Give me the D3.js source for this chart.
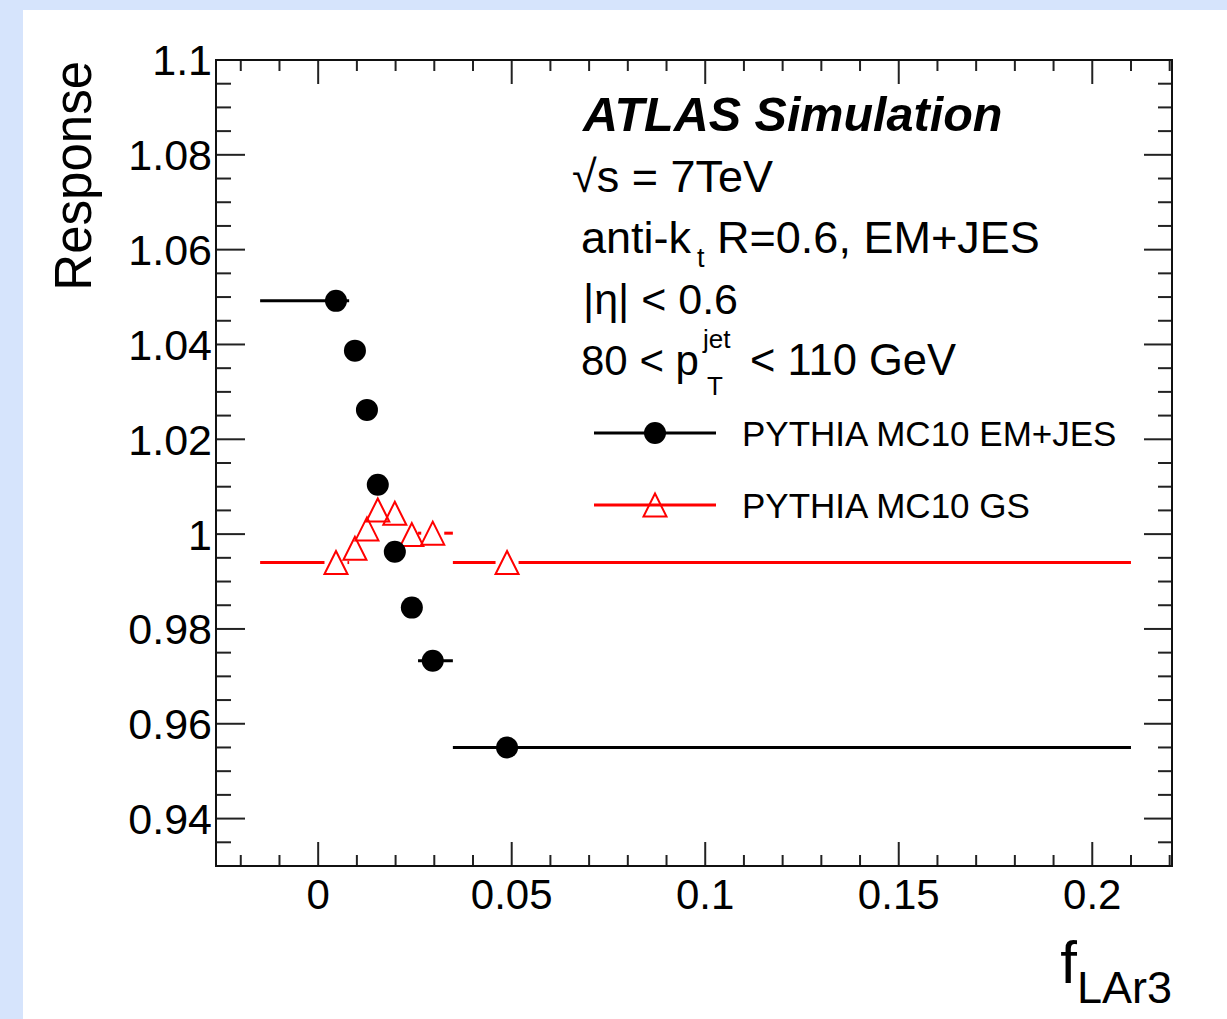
<!DOCTYPE html>
<html>
    <head>
        <style>
            body { margin: 0; background: #d6e4fc; }
            svg { display: block; }
            text { font-family: "Liberation Sans", Arial, sans-serif; fill: black; }
            line.tick { stroke: #222; stroke-width: 2; }
            .frame { fill: none; stroke: #111; stroke-width: 2; }
        </style>
        <script src="https://cdn.jsdelivr.net/npm/d3@7"></script>
    </head>
    <body>
        <div id="canvas"></div>
        <script>
            var canvas_w = 1227;
            var canvas_h = 1019;

            // bins in f_LAr3 (horizontal error bars) and bin centres
            var bin_x  = [0.0046, 0.0095, 0.0126, 0.0154, 0.0198, 0.0242, 0.0296, 0.0488];
            var bin_lo = [-0.015, 0.0080, 0.0110, 0.0140, 0.0172, 0.0225, 0.0258, 0.0348];
            var bin_hi = [0.0080, 0.0110, 0.0140, 0.0172, 0.0225, 0.0258, 0.0348, 0.2100];

            // response per bin
            var resp_emjes = [1.0492, 1.0387, 1.0262, 1.0104, 0.9963, 0.9845, 0.9733, 0.9550];
            var resp_gs    = [0.9940, 0.9970, 1.0011, 1.0051, 1.0044, 0.9999, 1.0002, 0.9940];

            var x_major = [0, 0.05, 0.1, 0.15, 0.2];
            var x_labels = ["0", "0.05", "0.1", "0.15", "0.2"];
            var y_major = [0.94, 0.96, 0.98, 1.0, 1.02, 1.04, 1.06, 1.08, 1.1];
            var y_labels = ["0.94", "0.96", "0.98", "1", "1.02", "1.04", "1.06", "1.08", "1.1"];

            var series_names = ["PYTHIA MC10 EM+JES", "PYTHIA MC10 GS"];

            var plot_l = 216, plot_r = 1172, plot_t = 60, plot_b = 866;

            var x = d3.scaleLinear().domain([-0.0264, 0.2206]).range([plot_l, plot_r]);
            var y = d3.scaleLinear().domain([0.93, 1.1]).range([plot_b, plot_t]);

            var svg = d3.select("#canvas").append("svg")
                        .attr("width", canvas_w).attr("height", canvas_h);

            svg.append("rect").attr("x", 0).attr("y", 0).attr("width", canvas_w).attr("height", canvas_h)
               .attr("fill", "#d6e4fc");
            svg.append("rect").attr("x", 23).attr("y", 10).attr("width", canvas_w - 23).attr("height", canvas_h - 10)
               .attr("fill", "white");

            // ticks on all four sides
            var ticks_g = svg.append("g");
            var x_minor = d3.range(-2, 23).map(function(i) { return i / 100; });
            var y_minor = d3.range(186, 221).map(function(i) { return i / 200; });

            x_minor.forEach(function(v) {
                var major = x_major.some(function(m) { return Math.abs(m - v) < 1e-9; });
                var len = major ? 24 : 11;
                ticks_g.append("line").attr("class", "tick")
                       .attr("x1", x(v)).attr("x2", x(v)).attr("y1", plot_b).attr("y2", plot_b - len);
                ticks_g.append("line").attr("class", "tick")
                       .attr("x1", x(v)).attr("x2", x(v)).attr("y1", plot_t).attr("y2", plot_t + len);
            });
            y_minor.forEach(function(v) {
                var major = y_major.some(function(m) { return Math.abs(m - v) < 1e-9; });
                ticks_g.append("line").attr("class", "tick")
                       .attr("x1", plot_l).attr("x2", plot_l + (major ? 29 : 15)).attr("y1", y(v)).attr("y2", y(v));
                ticks_g.append("line").attr("class", "tick")
                       .attr("x1", plot_r).attr("x2", plot_r - (major ? 28 : 14)).attr("y1", y(v)).attr("y2", y(v));
            });

            svg.append("rect").attr("class", "frame")
               .attr("x", plot_l).attr("y", plot_t).attr("width", plot_r - plot_l).attr("height", plot_b - plot_t);

            // tick labels
            svg.append("g").selectAll("text").data(x_major).enter().append("text")
               .attr("x", function(d) { return x(d); }).attr("y", 909)
               .attr("text-anchor", "middle").attr("font-size", 42)
               .text(function(d, i) { return x_labels[i]; });
            svg.append("g").selectAll("text").data(y_major).enter().append("text")
               .attr("x", 212).attr("y", function(d) { return y(d); }).attr("dy", "0.36em")
               .attr("text-anchor", "end").attr("font-size", 43)
               .text(function(d, i) { return y_labels[i]; });

            // axis titles
            svg.append("text").attr("transform", "translate(91,61) rotate(-90)")
               .attr("text-anchor", "end").attr("font-size", 51).text("Response");
            var xt = svg.append("text").attr("x", 1172).attr("y", 983).attr("text-anchor", "end");
            xt.append("tspan").attr("font-size", 60).text("f");
            xt.append("tspan").attr("font-size", 45).attr("dy", 20).text("LAr3");

            // data
            var r = 11, tri = 11.5;
            var data_g = svg.append("g");

            function triPath(cx, cy, h) {
                return "M" + cx + "," + (cy - h) + "L" + (cx + h) + "," + (cy + h) + "L" + (cx - h) + "," + (cy + h) + "Z";
            }

            bin_x.forEach(function(bx, i) {
                // GS: error bars stop at the marker edge
                var cx = x(bx), cy = y(resp_gs[i]);
                if (x(bin_lo[i]) < cx - tri)
                    data_g.append("line").attr("x1", x(bin_lo[i])).attr("x2", cx - tri)
                          .attr("y1", cy).attr("y2", cy).attr("stroke", "red").attr("stroke-width", 3);
                if (x(bin_hi[i]) > cx + tri)
                    data_g.append("line").attr("x1", cx + tri).attr("x2", x(bin_hi[i]))
                          .attr("y1", cy).attr("y2", cy).attr("stroke", "red").attr("stroke-width", 3);
            });
            bin_x.forEach(function(bx, i) {
                data_g.append("path").attr("d", triPath(x(bx), y(resp_gs[i]), tri))
                      .attr("fill", "none").attr("stroke", "red").attr("stroke-width", 2);
            });
            bin_x.forEach(function(bx, i) {
                data_g.append("line").attr("x1", x(bin_lo[i])).attr("x2", x(bin_hi[i]))
                      .attr("y1", y(resp_emjes[i])).attr("y2", y(resp_emjes[i]))
                      .attr("stroke", "black").attr("stroke-width", 3);
                data_g.append("circle").attr("cx", x(bx)).attr("cy", y(resp_emjes[i])).attr("r", r)
                      .attr("fill", "black");
            });

            // legend
            var leg = svg.append("g");
            leg.append("line").attr("x1", 594).attr("x2", 716).attr("y1", 433).attr("y2", 433)
               .attr("stroke", "black").attr("stroke-width", 3);
            leg.append("circle").attr("cx", 655).attr("cy", 433).attr("r", r).attr("fill", "black");
            leg.append("line").attr("x1", 594).attr("x2", 716).attr("y1", 505).attr("y2", 505)
               .attr("stroke", "red").attr("stroke-width", 3);
            leg.append("path").attr("d", triPath(655, 505, tri)).attr("fill", "none")
               .attr("stroke", "red").attr("stroke-width", 2);
            leg.selectAll("text.lab").data(series_names).enter().append("text")
               .attr("x", 742).attr("y", function(d, i) { return 433 + i * 72; }).attr("dy", "0.36em")
               .attr("font-size", 35).text(function(d) { return d; });

            // labels
            svg.append("text").attr("x", 583).attr("y", 131).attr("font-size", 48.5)
               .attr("font-weight", "bold").attr("font-style", "italic").text("ATLAS Simulation");
            svg.append("text").attr("x", 572).attr("y", 192).attr("font-size", 45).text("\u221As = 7TeV");
            var ak = svg.append("text").attr("x", 581).attr("y", 253).attr("font-size", 45);
            ak.append("tspan").text("anti-k");
            ak.append("tspan").attr("font-size", 27).attr("dx", 6).attr("dy", 14).text("t");
            ak.append("tspan").attr("dy", -14).text(" R=0.6, EM+JES");
            svg.append("text").attr("x", 583).attr("y", 314).attr("font-size", 43).text("|\u03B7| < 0.6");
            svg.append("text").attr("x", 581).attr("y", 375).attr("font-size", 42).text("80 < p");
            svg.append("text").attr("x", 703).attr("y", 348).attr("font-size", 26).text("jet");
            svg.append("text").attr("x", 707).attr("y", 395).attr("font-size", 26).text("T");
            svg.append("text").attr("x", 750).attr("y", 375).attr("font-size", 43.5).text("< 110 GeV");
        </script>
    </body>
</html>
